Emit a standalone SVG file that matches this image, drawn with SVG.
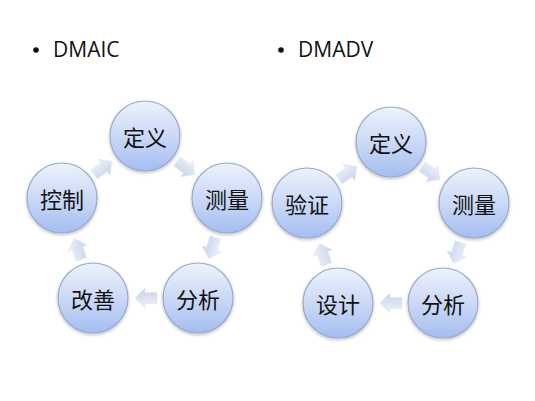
<svg xmlns="http://www.w3.org/2000/svg" width="535" height="401" viewBox="0 0 535 401">
  <defs>
    <linearGradient id="cg" x1="0" y1="0" x2="0" y2="1">
      <stop offset="0" stop-color="#edf2fc"/>
      <stop offset="0.5" stop-color="#cbd9f6"/>
      <stop offset="1" stop-color="#a4bdf0"/>
    </linearGradient>
    <linearGradient id="ag" x1="0" y1="0" x2="0" y2="1">
      <stop offset="0" stop-color="#eef2f9"/>
      <stop offset="1" stop-color="#c8d4ea"/>
    </linearGradient>
    <filter id="sh" x="-20%" y="-20%" width="140%" height="150%">
      <feDropShadow dx="0" dy="1.5" stdDeviation="1.5" flood-color="#000" flood-opacity="0.25"/>
    </filter>
    <polygon id="arr" points="-11,-5.5 1,-5.5 1,-10 11,0 1,10 1,5.5 -11,5.5"/>
  </defs>
  <style>
    .c { fill: url(#cg); stroke: #98aacb; stroke-width: 1.2; filter: url(#sh); }
    .t { font-family: "Noto Sans CJK SC", "Noto Sans", sans-serif; font-size: 22px; fill: #111; text-anchor: middle; dominant-baseline: central; }
    .h { font-family: "Open Sans", "Liberation Sans", sans-serif; font-size: 21px; fill: #111; }
    .b { fill: #111; }
    .a { fill: url(#ag); stroke: #dfe6f2; stroke-width: 0.6; }
  </style>
  <rect width="535" height="401" fill="#fff"/>

  <g id="title-dmaic">
    <circle class="b" cx="36" cy="50" r="2.8"/>
    <text class="h" x="53" y="57">DMAIC</text>
  </g>
  <g id="title-dmadv">
    <circle class="b" cx="281" cy="50" r="2.8"/>
    <text class="h" x="298" y="57">DMADV</text>
  </g>

  <g id="connectors">
    <use href="#arr" class="a" transform="translate(103,168) rotate(-36)"/>
    <use href="#arr" class="a" transform="translate(186,168) rotate(36)"/>
    <use href="#arr" class="a" transform="translate(212,248) rotate(108)"/>
    <use href="#arr" class="a" transform="translate(146,298) rotate(180)"/>
    <use href="#arr" class="a" transform="translate(78,249) rotate(252)"/>

    <use href="#arr" class="a" transform="translate(348,173) rotate(-36)"/>
    <use href="#arr" class="a" transform="translate(431,173) rotate(36)"/>
    <use href="#arr" class="a" transform="translate(457,253) rotate(108)"/>
    <use href="#arr" class="a" transform="translate(391,303) rotate(180)"/>
    <use href="#arr" class="a" transform="translate(323,254) rotate(252)"/>
  </g>

  <g id="l-define"><circle class="c" cx="145" cy="136" r="35"/><text class="t" x="145" y="136">定义</text></g>
  <g id="l-measure"><circle class="c" cx="227" cy="198" r="35"/><text class="t" x="227" y="198">测量</text></g>
  <g id="l-analyze"><circle class="c" cx="198" cy="298" r="35"/><text class="t" x="198" y="298">分析</text></g>
  <g id="l-improve"><circle class="c" cx="93" cy="298" r="35"/><text class="t" x="93" y="298">改善</text></g>
  <g id="l-control"><circle class="c" cx="62" cy="198" r="35"/><text class="t" x="62" y="198">控制</text></g>

  <g id="r-define"><circle class="c" cx="391" cy="142" r="35"/><text class="t" x="391" y="142">定义</text></g>
  <g id="r-measure"><circle class="c" cx="474" cy="203" r="35"/><text class="t" x="474" y="203">测量</text></g>
  <g id="r-analyze"><circle class="c" cx="443" cy="303" r="35"/><text class="t" x="443" y="303">分析</text></g>
  <g id="r-design"><circle class="c" cx="338" cy="303" r="35"/><text class="t" x="338" y="303">设计</text></g>
  <g id="r-verify"><circle class="c" cx="307" cy="203" r="35"/><text class="t" x="307" y="203">验证</text></g>
</svg>
